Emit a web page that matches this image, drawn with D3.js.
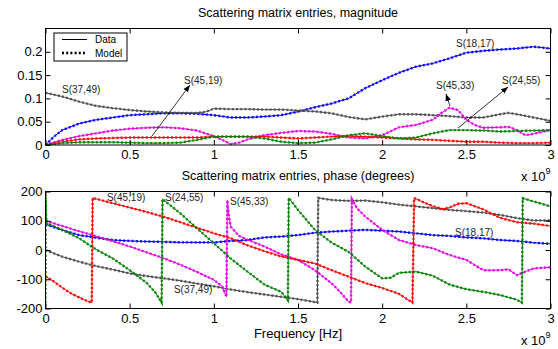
<!DOCTYPE html>
<html><head><meta charset="utf-8">
<script src="https://cdn.jsdelivr.net/npm/d3@7"></script>
<style>
body{margin:0;background:#fff;}
svg{display:block;font-family:"Liberation Sans",Arial,Helvetica,sans-serif;}
</style></head>
<body>
<svg id="c" width="558" height="349"></svg>
<script>
// ---------- DATA (frequency in units of 1e9 Hz) ----------
const xTicks = [0, 0.5, 1, 1.5, 2, 2.5, 3];
const magTicks = [0, 0.05, 0.1, 0.15, 0.2];
const phaseTicks = [-200, -100, 0, 100, 200];
const seriesNames = ["S(18,17)", "S(37,49)", "S(45,33)", "S(45,19)", "S(24,55)"];
const seriesColors = ["#0000ff", "#4d4d4d", "#e600e6", "#ff0000", "#008000"];

const magS1817 = [[0,0],[0.05,0.018],[0.1,0.032],[0.2,0.046],[0.3,0.054],[0.4,0.059],[0.5,0.064],[0.6,0.066],[0.7,0.068],[0.8,0.068],[0.9,0.067],[1.0,0.064],[1.1,0.059],[1.2,0.059],[1.3,0.061],[1.4,0.064],[1.5,0.0715],[1.6,0.081],[1.7,0.089],[1.8,0.100],[1.9,0.122],[2.0,0.139],[2.1,0.155],[2.2,0.168],[2.3,0.175],[2.4,0.186],[2.5,0.198],[2.6,0.202],[2.7,0.205],[2.8,0.207],[2.9,0.211],[3.0,0.207]];
const magS3749 = [[0,0.112],[0.1,0.104],[0.2,0.093],[0.3,0.084],[0.4,0.079],[0.5,0.075],[0.6,0.072],[0.7,0.070],[0.8,0.069],[0.9,0.069],[0.95,0.071],[1.0,0.078],[1.1,0.077],[1.2,0.077],[1.3,0.076],[1.4,0.076],[1.5,0.074],[1.6,0.072],[1.7,0.068],[1.8,0.060],[1.9,0.055],[2.0,0.061],[2.1,0.066],[2.2,0.066],[2.3,0.064],[2.4,0.062],[2.5,0.059],[2.6,0.059],[2.7,0.066],[2.75,0.069],[2.8,0.066],[2.9,0.059],[3.0,0.052]];
const magS4533 = [[0,0],[0.1,0.011],[0.2,0.019],[0.3,0.025],[0.4,0.031],[0.5,0.035],[0.6,0.037],[0.7,0.038],[0.8,0.036],[0.9,0.031],[1.0,0.019],[1.05,0.011],[1.1,0.002],[1.15,0.005],[1.2,0.012],[1.3,0.021],[1.4,0.026],[1.5,0.030],[1.6,0.029],[1.7,0.024],[1.8,0.016],[1.9,0.014],[2.0,0.021],[2.1,0.038],[2.2,0.043],[2.3,0.054],[2.35,0.068],[2.4,0.080],[2.45,0.075],[2.5,0.054],[2.55,0.043],[2.6,0.037],[2.7,0.038],[2.75,0.039],[2.8,0.032],[2.85,0.021],[2.9,0.024],[3.0,0.032]];
const magS4519 = [[0,0],[0.1,0.007],[0.2,0.012],[0.3,0.014],[0.5,0.016],[0.9,0.016],[1.0,0.018],[1.3,0.018],[1.4,0.016],[1.5,0.014],[1.6,0.016],[1.7,0.018],[1.8,0.019],[1.9,0.018],[2.0,0.016],[2.1,0.014],[2.2,0.012],[2.3,0.011],[2.4,0.009],[2.5,0.007],[2.6,0.007],[2.7,0.005],[2.8,0.004],[2.9,0.004],[3.0,0.005]];
const magS2455 = [[0,0],[0.1,0.004],[0.2,0.006],[0.3,0.006],[0.4,0.006],[0.5,0.005],[0.6,0.004],[0.7,0.004],[0.8,0.005],[0.9,0.011],[1.0,0.018],[1.1,0.018],[1.2,0.018],[1.3,0.014],[1.4,0.007],[1.5,0.004],[1.6,0.005],[1.7,0.012],[1.8,0.021],[1.9,0.025],[2.0,0.019],[2.1,0.014],[2.2,0.016],[2.3,0.025],[2.4,0.032],[2.5,0.032],[2.6,0.031],[2.7,0.029],[2.8,0.030],[2.9,0.031],[3.0,0.032]];

const phS1817 = [[0,88],[0.1,68],[0.2,51],[0.3,42],[0.4,34],[0.5,31],[0.6,29],[0.7,28],[0.8,26],[0.9,26],[1.0,26],[1.1,31],[1.2,34],[1.3,43],[1.4,46],[1.5,51],[1.6,59],[1.7,63],[1.8,66],[1.9,69],[2.0,66],[2.1,63],[2.2,57],[2.3,51],[2.4,48],[2.5,43],[2.6,40],[2.7,34],[2.8,31],[2.9,25],[3.0,21]];
const phS3749 = [[0,0],[0.1,-23],[0.2,-40],[0.3,-55],[0.4,-67],[0.5,-80],[0.6,-89],[0.7,-97],[0.8,-105],[0.9,-115],[1.0,-124],[1.1,-135],[1.2,-144],[1.3,-152],[1.4,-160],[1.5,-168],[1.6,-178],[1.615,-180],[1.62,178],[1.7,171],[1.8,168],[1.9,169],[2.0,163],[2.1,155],[2.2,149],[2.3,143],[2.4,137],[2.5,133],[2.6,128],[2.7,120],[2.8,109],[2.9,101],[3.0,101]];
const phS4533 = [[0,100],[0.1,82],[0.2,64],[0.3,47],[0.4,30],[0.5,12],[0.6,-8],[0.7,-28],[0.8,-50],[0.9,-75],[1.0,-102],[1.05,-125],[1.075,-160],[1.08,170],[1.09,115],[1.1,80],[1.15,48],[1.2,35],[1.3,12],[1.4,-15],[1.5,-34],[1.6,-69],[1.7,-114],[1.75,-143],[1.8,-177],[1.815,-180],[1.82,174],[1.85,143],[1.9,114],[2.0,69],[2.1,34],[2.2,17],[2.3,6],[2.4,-17],[2.5,-34],[2.6,-69],[2.7,-69],[2.75,-66],[2.8,-86],[2.85,-74],[2.9,-63],[3.0,-59]];
const phS4519 = [[0,-90],[0.05,-108],[0.1,-129],[0.15,-148],[0.2,-162],[0.25,-175],[0.275,-180],[0.28,178],[0.4,160],[0.5,145],[0.6,130],[0.7,114],[0.8,95],[0.9,76],[1.0,57],[1.1,40],[1.2,16],[1.3,-4],[1.4,-22],[1.5,-34],[1.6,-46],[1.7,-69],[1.8,-91],[1.9,-113],[2.0,-130],[2.1,-150],[2.18,-180],[2.19,178],[2.25,162],[2.3,150],[2.36,140],[2.4,145],[2.45,158],[2.5,160],[2.6,139],[2.7,110],[2.8,95],[2.9,90],[3.0,82]];
const phS2455 = [[0,-180],[0.001,180],[0.005,92],[0.1,69],[0.2,40],[0.3,2],[0.4,-29],[0.5,-69],[0.6,-112],[0.65,-143],[0.69,-180],[0.695,174],[0.75,149],[0.8,126],[0.9,74],[1.0,23],[1.1,-29],[1.2,-74],[1.3,-118],[1.4,-143],[1.44,-172],[1.445,178],[1.5,137],[1.6,69],[1.7,25],[1.8,-6],[1.9,-57],[2.0,-97],[2.05,-95],[2.1,-78],[2.2,-74],[2.3,-88],[2.4,-118],[2.5,-134],[2.6,-143],[2.7,-154],[2.8,-170],[2.83,-180],[2.835,177],[2.9,166],[3.0,149]];

const magSeries = [magS1817, magS3749, magS4533, magS4519, magS2455];
const phaseSeries = [phS1817, phS3749, phS4533, phS4519, phS2455];

// annotations: [text, f, value, arrowFromF, arrowFromV, arrowToF, arrowToV]
const magNotes = [["S(37,49)",0.098,0.111],["S(45,19)",0.823,0.131,0.633,0.0193,0.858,0.1288],["S(18,17)",2.439,0.210],["S(45,33)",2.32,0.120,2.403,0.0837,2.379,0.1094],["S(24,55)",2.712,0.131,2.451,0.0365,2.748,0.1245]];
const phaseNotes = [["S(45,19)",0.365,167],["S(24,55)",0.71,167],["S(45,33)",1.096,154],["S(37,49)",0.763,-147],["S(18,17)",2.433,48]];

// ---------- DRAW ----------
const svg = d3.select("#c");
const X0 = 45.5, X1 = 550.5;
const x = d3.scaleLinear().domain([0,3]).range([X0,X1]);
const panels = [
  {top:28.5, bottom:145, domain:[0,0.25], ticks:magTicks, fmt:d=>String(+d.toFixed(2)), data:magSeries, notes:magNotes, title:"Scattering matrix entries, magnitude", titleY:17},
  {top:191.5, bottom:308.5, domain:[-200,200], ticks:phaseTicks, fmt:d=>String(d), data:phaseSeries, notes:phaseNotes, title:"Scattering matrix entries, phase (degrees)", titleY:180}
];
const defs = svg.append("defs");
defs.append("marker").attr("id","ah").attr("viewBox","0 0 10 10").attr("refX",10).attr("refY",5)
  .attr("markerWidth",7).attr("markerHeight",7).attr("markerUnits","userSpaceOnUse").attr("orient","auto")
  .append("path").attr("d","M0,1 L10,5 L0,9 z").attr("fill","#000");

panels.forEach((p,i)=>{
  const y = d3.scaleLinear().domain(p.domain).range([p.bottom,p.top]);
  const g = svg.append("g");
  defs.append("clipPath").attr("id","clip"+i).append("rect")
    .attr("x",X0).attr("y",p.top).attr("width",X1-X0).attr("height",p.bottom-p.top);
  g.append("rect").attr("x",X0).attr("y",p.top).attr("width",X1-X0).attr("height",p.bottom-p.top).attr("fill","#fff");
  const line = d3.line().x(d=>x(d[0])).y(d=>y(d[1]));
  const lg = g.append("g").attr("clip-path",`url(#clip${i})`);
  p.data.forEach((s,k)=>{
    lg.append("path").attr("d",line(s)).attr("fill","none").attr("stroke",seriesColors[k]).attr("stroke-width",1);
    lg.append("path").attr("d",line(s)).attr("fill","none").attr("stroke",seriesColors[k]).attr("stroke-width",2.4)
      .attr("stroke-dasharray","2,2.2").attr("opacity",0.9);
  });
  // axes
  const tickStyle = sel=>{sel.select(".domain").remove(); sel.selectAll("line").attr("stroke","#000");
    sel.selectAll("text").attr("font-size",13).attr("fill","#000").attr("font-family",'"Liberation Sans",Arial,sans-serif');};
  g.append("g").attr("transform",`translate(0,${p.bottom})`)
    .call(d3.axisBottom(x).tickValues(xTicks).tickSize(-5).tickPadding(5).tickFormat(d=>String(d))).call(tickStyle);
  g.append("g").attr("transform",`translate(0,${p.top})`)
    .call(d3.axisTop(x).tickValues(xTicks).tickSize(-5).tickFormat("")).call(tickStyle);
  g.append("g").attr("transform",`translate(${X0},0)`)
    .call(d3.axisLeft(y).tickValues(p.ticks).tickSize(-5).tickPadding(3).tickFormat(p.fmt)).call(tickStyle);
  g.append("g").attr("transform",`translate(${X1},0)`)
    .call(d3.axisRight(y).tickValues(p.ticks).tickSize(-5).tickFormat("")).call(tickStyle);
  g.append("rect").attr("x",X0).attr("y",p.top).attr("width",X1-X0).attr("height",p.bottom-p.top)
    .attr("fill","none").attr("stroke","#000").attr("stroke-width",1);
  // title
  svg.append("text").attr("x",(X0+X1)/2).attr("y",p.titleY).attr("text-anchor","middle")
    .attr("font-size",12.5).attr("fill","#000").text(p.title);
  // exponent label
  const ex = svg.append("text").attr("x",521).attr("y",p.bottom+36).attr("font-size",13).attr("fill","#000");
  ex.append("tspan").text("x 10");
  ex.append("tspan").attr("dy",-7).attr("font-size",9).text("9");
  // annotations
  p.notes.forEach(n=>{
    g.append("text").attr("x",x(n[1])).attr("y",y(n[2])).attr("font-size",10).attr("fill","#222").text(n[0]);
    if(n.length>3){
      g.append("line").attr("x1",x(n[3])).attr("y1",y(n[4])).attr("x2",x(n[5])).attr("y2",y(n[6]))
        .attr("stroke","#000").attr("stroke-width",0.8).attr("marker-end","url(#ah)");
    }
  });
});

// x-axis label
svg.append("text").attr("x",(X0+X1)/2).attr("y",338).attr("text-anchor","middle").attr("font-size",13).attr("fill","#000").text("Frequency [Hz]");

// legend
const leg = svg.append("g");
leg.append("rect").attr("x",54).attr("y",33).attr("width",73).attr("height",28).attr("fill","#fff").attr("stroke","#000").attr("stroke-width",1);
leg.append("line").attr("x1",62).attr("x2",87).attr("y1",39.5).attr("y2",39.5).attr("stroke","#000").attr("stroke-width",1);
leg.append("line").attr("x1",62).attr("x2",87).attr("y1",53).attr("y2",53).attr("stroke","#000").attr("stroke-width",2.4).attr("stroke-dasharray","2,2.2");
leg.append("text").attr("x",95).attr("y",43).attr("font-size",10).text("Data");
leg.append("text").attr("x",95).attr("y",57).attr("font-size",10).text("Model");
</script>
</body></html>
